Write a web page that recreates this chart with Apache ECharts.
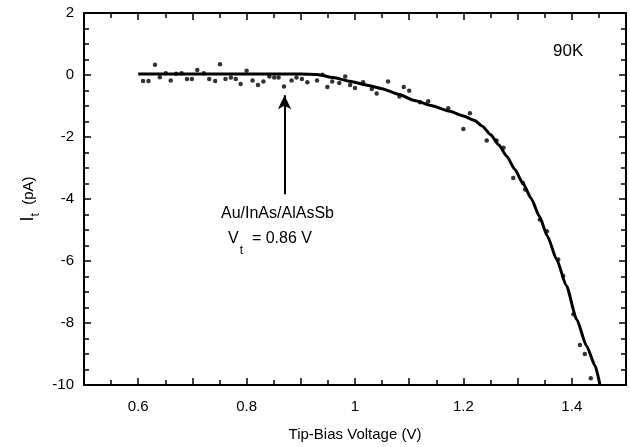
<!DOCTYPE html>
<html>
<head>
<meta charset="utf-8">
<script src="https://cdn.jsdelivr.net/npm/echarts@6/dist/echarts.min.js"></script>
<style>
  html, body { margin: 0; padding: 0; background: #fff; }
  #chart { width: 630px; height: 447px; }
</style>
</head>
<body>
<div id="chart"></div>
<script>
// Fitted curve (smooth line)
const fitLine = [
  [0.6, 0.03], [0.65, 0.03], [0.7, 0.03], [0.75, 0.03], [0.8, 0.03], [0.85, 0.03],
  [0.9, 0.03], [0.93, 0.02], [0.96, -0.08], [0.99, -0.2], [1.02, -0.32], [1.05, -0.44],
  [1.08, -0.62], [1.11, -0.82], [1.14, -0.98], [1.175, -1.17], [1.2, -1.32], [1.22, -1.46],
  [1.235, -1.65], [1.25, -1.92], [1.265, -2.25], [1.28, -2.62], [1.295, -3.05], [1.31, -3.5],
  [1.325, -3.98], [1.34, -4.55], [1.355, -5.2], [1.372, -5.95], [1.39, -6.8], [1.409, -7.88],
  [1.427, -8.73], [1.443, -9.38], [1.452, -10]
];

// Measured points
const measured = [
  [0.609, -0.19], [0.619, -0.19], [0.631, 0.33], [0.640, -0.07], [0.651, 0.06], [0.66, -0.18],
  [0.67, 0.04], [0.68, 0.06], [0.69, -0.13], [0.699, -0.13], [0.709, 0.16], [0.721, 0.06],
  [0.731, -0.13], [0.742, -0.19], [0.751, 0.35], [0.761, -0.13], [0.771, -0.08], [0.78, -0.13],
  [0.789, -0.29], [0.80, 0.14], [0.811, -0.18], [0.821, -0.32], [0.831, -0.21], [0.842, -0.05],
  [0.851, -0.08], [0.859, -0.08], [0.869, -0.37], [0.883, -0.18], [0.892, -0.08], [0.902, -0.13],
  [0.912, -0.23], [0.930, -0.18], [0.940, 0.01], [0.949, -0.39], [0.958, -0.21], [0.971, -0.26],
  [0.982, -0.05], [0.991, -0.32], [1.0, -0.42], [1.015, -0.23], [1.031, -0.45], [1.04, -0.6],
  [1.061, -0.21], [1.082, -0.69], [1.09, -0.39], [1.1, -0.51], [1.12, -0.88], [1.135, -0.85],
  [1.172, -1.07], [1.2, -1.74], [1.212, -1.23], [1.243, -2.11], [1.261, -2.11], [1.274, -2.35],
  [1.292, -3.32], [1.31, -3.48], [1.314, -3.69], [1.341, -4.66], [1.354, -5.04], [1.375, -5.95],
  [1.384, -6.48], [1.403, -7.72], [1.415, -8.71], [1.424, -9.0], [1.435, -9.78]
];

// Annotation arrow (from, to)
const arrow = [[0.87, -3.85], [0.87, -0.65]];

const xTicks = { min: 0.5, max: 1.5, interval: 0.1 };
const yTicks = { min: -10, max: 2, interval: 2 };

const font = 'Liberation Sans, Arial, sans-serif';

const tickStyle = { inside: true, length: 7, lineStyle: { color: '#000', width: 1.5 } };
const xMinor = { show: true, splitNumber: 2, length: 5, lineStyle: { color: '#000', width: 1.5 } };
const yMinor = { show: true, splitNumber: 4, length: 5, lineStyle: { color: '#000', width: 1.5 } };
const axisLine = { show: true, onZero: false, lineStyle: { color: '#000', width: 2 } };

let chart = echarts.init(document.getElementById('chart'));
chart.setOption({
  animation: false,
  backgroundColor: '#fff',
  grid: { left: 84, right: 4, top: 13, bottom: 61 },
  xAxis: [{
    type: 'value',
    min: xTicks.min, max: xTicks.max, interval: xTicks.interval,
    axisLine: axisLine,
    axisTick: tickStyle,
    minorTick: xMinor,
    splitLine: { show: false },
    axisLabel: {
      color: '#000', fontFamily: font, fontSize: 15, margin: 14,
      formatter: function (v) {
        let r = Math.round(v * 10);
        if (r % 2 !== 0 || r === 0) return '';
        return String(r / 10);
      }
    },
    name: 'Tip-Bias Voltage (V)',
    nameLocation: 'middle', nameGap: 42,
    nameTextStyle: { color: '#000', fontFamily: font, fontSize: 15 }
  }, {
    type: 'value', position: 'top',
    min: xTicks.min, max: xTicks.max, interval: xTicks.interval,
    axisLine: axisLine,
    axisTick: tickStyle,
    minorTick: xMinor,
    splitLine: { show: false },
    axisLabel: { show: false }
  }],
  yAxis: [{
    type: 'value',
    min: yTicks.min, max: yTicks.max, interval: yTicks.interval,
    axisLine: axisLine,
    axisTick: tickStyle,
    minorTick: yMinor,
    splitLine: { show: false },
    axisLabel: { color: '#000', fontFamily: font, fontSize: 15, margin: 10 },
    name: '{a|I}{b|t}{c|  (pA)}',
    nameLocation: 'middle', nameGap: 36, nameRotate: 90,
    nameTextStyle: {
      color: '#000', fontFamily: font,
      rich: {
        a: { fontSize: 18, fontFamily: font, color: '#000' },
        b: { fontSize: 12, fontFamily: font, color: '#000', verticalAlign: 'bottom', lineHeight: 26 },
        c: { fontSize: 15, fontFamily: font, color: '#000' }
      }
    }
  }, {
    type: 'value', position: 'right',
    min: yTicks.min, max: yTicks.max, interval: yTicks.interval,
    axisLine: axisLine,
    axisTick: tickStyle,
    minorTick: yMinor,
    splitLine: { show: false },
    axisLabel: { show: false }
  }],
  series: [{
    type: 'line',
    data: fitLine,
    showSymbol: false,
    smooth: 0.2,
    smoothMonotone: 'x',
    lineStyle: { color: '#000', width: 3 },
    markLine: {
      silent: true,
      symbol: ['none', 'arrow'],
      symbolSize: [10, 14],
      label: { show: false },
      lineStyle: { color: '#000', width: 2, type: 'solid' },
      data: [[{ coord: arrow[0] }, { coord: arrow[1] }]]
    }
  }, {
    type: 'scatter',
    data: measured,
    symbol: 'circle',
    symbolSize: 4.5,
    itemStyle: { color: '#000' }
  }],
  graphic: [{
    type: 'text', left: 553, top: 43,
    style: { text: '90K', fontFamily: font, fontSize: 17, fill: '#000' }
  }, {
    type: 'text', left: 221, top: 206,
    style: { text: 'Au/InAs/AlAsSb', fontFamily: font, fontSize: 16, fill: '#000' }
  }, {
    type: 'text', left: 228, top: 231,
    style: {
      text: '{v|V}{s|t}{r|  = 0.86 V}',
      rich: {
        v: { fontFamily: font, fontSize: 16, fill: '#000', lineHeight: 20, verticalAlign: 'top' },
        s: { fontFamily: font, fontSize: 12, fill: '#000', padding: [14, 0, 0, 1] },
        r: { fontFamily: font, fontSize: 16, fill: '#000', lineHeight: 20, verticalAlign: 'top' }
      }
    }
  }]
});
</script>
</body>
</html>
